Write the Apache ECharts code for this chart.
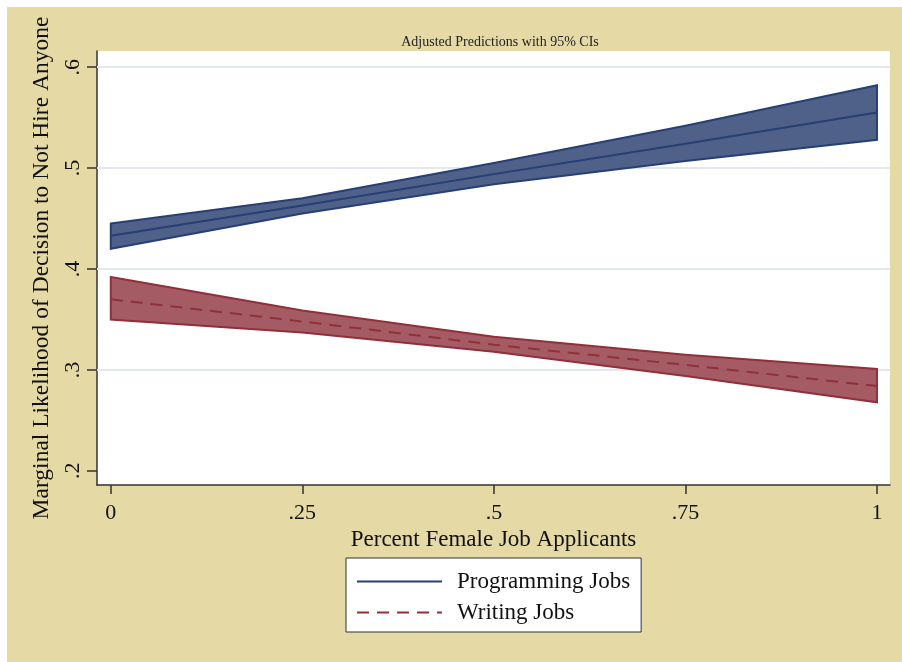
<!DOCTYPE html>
<html>
<head>
<meta charset="utf-8">
<script src="https://cdn.jsdelivr.net/npm/echarts@6/dist/echarts.min.js"></script>
<style>html,body{margin:0;padding:0;background:#fff;}#c{width:902px;height:662px;}</style>
</head>
<body>
<div id="c"></div>
<script>
const xs = [0, 0.25, 0.5, 0.75, 1];
const xTicks = [0, 0.25, 0.5, 0.75, 1];
const yTicks = [0.2, 0.3, 0.4, 0.5, 0.6];
const yGrid = [0.3, 0.4, 0.5, 0.6];
const progMid = [0.433, 0.463, 0.494, 0.524, 0.555];
const progLo  = [0.420, 0.455, 0.484, 0.507, 0.528];
const progHi  = [0.445, 0.470, 0.505, 0.542, 0.582];
const writMid = [0.370, 0.348, 0.325, 0.305, 0.284];
const writLo  = [0.350, 0.337, 0.318, 0.294, 0.268];
const writHi  = [0.392, 0.359, 0.333, 0.315, 0.301];

const NAVY = '#263f74', NAVYFILL = '#4f6089';
const MAROON = '#90303b', MAROONFILL = '#a55b64';
const FONT = '"Liberation Serif", "DejaVu Serif", serif';
const fmt = v => { const s = String(+v.toFixed(2)); return s.replace(/^0\./, '.'); };

function band(name, lo, hi, fill, stroke) {
  return {
    type: 'custom', name: name, silent: true, z: 2,
    data: xs.map((x, i) => [x, lo[i], hi[i]]),
    encode: { x: 0, y: [1, 2] },
    renderItem: function (params, api) {
      if (params.dataIndex !== 0) return null;
      const pts = [];
      xs.forEach((x, i) => pts.push(api.coord([x, hi[i]])));
      for (let i = xs.length - 1; i >= 0; i--) pts.push(api.coord([xs[i], lo[i]]));
      return { type: 'polygon', shape: { points: pts }, style: { fill: fill, stroke: stroke, lineWidth: 2 } };
    }
  };
}

const chart = echarts.init(document.getElementById('c'));
chart.setOption({
  backgroundColor: '#ffffff',
  animation: false,
  graphic: [{ type: 'rect', z: -100, shape: { x: 7, y: 7, width: 895, height: 655 }, style: { fill: '#E5D9A5' } }],
  title: {
    text: 'Adjusted Predictions with 95% CIs', left: 495, top: 30, textAlign: 'center',
    textStyle: { fontFamily: FONT, fontSize: 14, fontWeight: 'normal', color: '#222' }
  },
  grid: { left: 97, right: 12, top: 51, bottom: 177, show: true, backgroundColor: '#ffffff', borderWidth: 0 },
  xAxis: {
    type: 'value', min: -0.018, max: 1.017,
    name: 'Percent Female Job Applicants', nameLocation: 'middle', nameGap: 39,
    nameTextStyle: { fontFamily: FONT, fontSize: 23, color: '#111' },
    axisLine: { show: true, onZero: false, lineStyle: { color: '#333', width: 1.5 } },
    axisTick: { show: true, length: 9, customValues: xTicks, lineStyle: { color: '#333', width: 1.5 } },
    axisLabel: { customValues: xTicks, formatter: fmt, fontFamily: FONT, fontSize: 22, color: '#111', margin: 17 },
    splitLine: { show: false }
  },
  yAxis: {
    type: 'value', min: 0.186, max: 0.616,
    name: 'Marginal Likelihood of Decision to Not Hire Anyone', nameLocation: 'middle', nameGap: 37,
    nameTextStyle: { fontFamily: FONT, fontSize: 23.5, color: '#111' },
    axisLine: { show: true, onZero: false, lineStyle: { color: '#333', width: 1.5 } },
    axisTick: { show: true, length: 10, customValues: yTicks, lineStyle: { color: '#333', width: 1.5 } },
    axisLabel: { customValues: yTicks, formatter: fmt, rotate: 90, fontFamily: FONT, fontSize: 22, color: '#111', margin: 13 },
    splitLine: { show: false }
  },
  legend: {
    data: ['Programming Jobs', 'Writing Jobs'],
    orient: 'vertical', left: 346, top: 558,
    backgroundColor: '#ffffff', borderColor: '#333', borderWidth: 1,
    padding: [12, 11, 8, 10], itemGap: 8, itemWidth: 85, itemHeight: 12,
    itemStyle: { opacity: 0 },
    textStyle: { fontFamily: FONT, fontSize: 23, color: '#111', padding: [0, 0, 0, 10] }
  },
  series: [
    {
      type: 'line', name: 'gridlines', silent: true, data: [], z: 1,
      markLine: {
        silent: true, symbol: 'none', label: { show: false }, z: 1,
        lineStyle: { color: '#e2e7f0', width: 2, type: 'solid' },
        data: yGrid.map(v => ({ yAxis: v }))
      }
    },
    band('Programming CI', progLo, progHi, NAVYFILL, NAVY),
    band('Writing CI', writLo, writHi, MAROONFILL, MAROON),
    {
      type: 'line', name: 'Programming Jobs', z: 3, symbol: 'none',
      data: xs.map((x, i) => [x, progMid[i]]),
      lineStyle: { color: NAVY, width: 2 }, itemStyle: { color: NAVY }
    },
    {
      type: 'line', name: 'Writing Jobs', z: 3, symbol: 'none',
      data: xs.map((x, i) => [x, writMid[i]]),
      lineStyle: { color: MAROON, width: 2, type: [12, 8] }, itemStyle: { color: MAROON }
    }
  ]
});
</script>
</body>
</html>
